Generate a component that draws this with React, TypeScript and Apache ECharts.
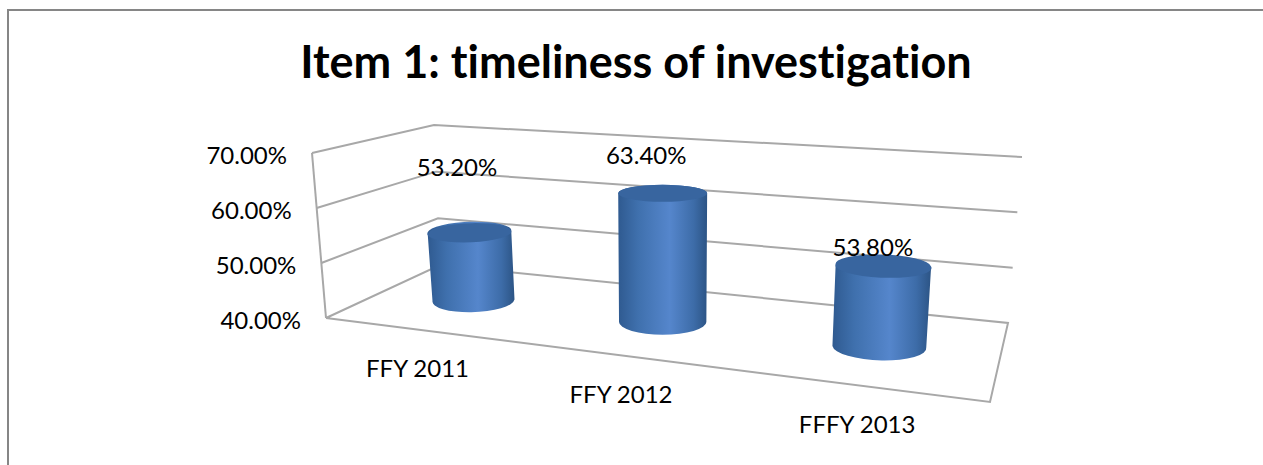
import React, { useEffect, useRef } from "react";
import * as echarts from "echarts";

const titleText = "Item 1: timeliness of investigation";
const categories = ["FFY 2011", "FFY 2012", "FFFY 2013"];
const values = [53.2, 63.4, 53.8];
const valueLabels = ["53.20%", "63.40%", "53.80%"];
const yTicks = [40, 50, 60, 70];

const FONT = "Lato, Carlito, 'Open Sans', sans-serif";
const GRID = { left: 300, top: 157, width: 700, height: 161 };
const Y_MIN = 40;
const Y_MAX = 70;
const LINE = "#a8a8a8";

// Corners of the 3D box: floor and 70% plane (front-left, front-right, back-right, back-left)
const FLOOR: number[][] = [[326, 318], [990, 402], [1008, 323], [440, 265]];
const ROOF: number[][] = [[312, 153], [1006, 207], [1022, 157], [434, 125]];

function homography(q: number[][]) {
  const [[x0, y0], [x1, y1], [x2, y2], [x3, y3]] = q;
  const dx1 = x1 - x2, dx2 = x3 - x2, sx = x0 - x1 + x2 - x3;
  const dy1 = y1 - y2, dy2 = y3 - y2, sy = y0 - y1 + y2 - y3;
  const det = dx1 * dy2 - dx2 * dy1;
  const g = (sx * dy2 - dx2 * sy) / det;
  const h = (dx1 * sy - sx * dy1) / det;
  const a = x1 - x0 + g * x1, b = x3 - x0 + h * x3, c = x0;
  const d = y1 - y0 + g * y1, e = y3 - y0 + h * y3, f = y0;
  return (u: number, v: number) => {
    const w = g * u + h * v + 1;
    return [(a * u + b * v + c) / w, (d * u + e * v + f) / w];
  };
}
const floorH = homography(FLOOR);
const roofH = homography(ROOF);
// u: along categories, v: depth (0 front), t: height fraction
function project(u: number, v: number, t: number) {
  const p = floorH(u, v), q = roofH(u, v);
  return [p[0] + (q[0] - p[0]) * t, p[1] + (q[1] - p[1]) * t];
}
function toNorm(pt: number[]) {
  return [(pt[0] - GRID.left) / GRID.width, (GRID.top + GRID.height - pt[1]) / GRID.height];
}

const HALF_W = 0.0715;
const BASE_RX = 44;
const LEAN = 12;
const CAP_DROP = 2;
const BASE_DROP = 3;
const LABEL_OFFSETS = [[-12.5, -66], [-16.5, -38.5], [-10.5, -20]];
const CATEGORY_OFFSET = [0, 38];
const TICK_OFFSET = [-25, 1.5];
const LABEL_SIZE = 24;

function renderBox(_p: any, api: any) {
  const line = (pts: number[][]) => ({
    type: "polyline",
    shape: { points: pts },
    style: { fill: "none", stroke: LINE, lineWidth: 2 },
  });
  const children: any[] = yTicks.slice(1).map((tick) => {
    const t = toNorm(api.coord([0, tick]))[1];
    return line([project(0, 0, t), project(0, 1, t), project(1, 1, t)]);
  });
  children.push(line([project(0, 0, 0), project(1, 0, 0), project(1, 1, 0), project(0, 1, 0), project(0, 0, 0)]));
  children.push(line([project(0, 0, 0), project(0, 0, 1)]));
  yTicks.forEach((tick) => {
    const t = toNorm(api.coord([0, tick]))[1];
    const p = project(0, 0, t);
    children.push({
      type: "text",
      style: {
        x: p[0] + TICK_OFFSET[0], y: p[1] + TICK_OFFSET[1], text: tick.toFixed(2) + "%",
        font: `${LABEL_SIZE}px ${FONT}`, fill: "#000", textAlign: "right", textVerticalAlign: "middle",
      },
    });
  });
  return { type: "group", children };
}

function renderCylinder(_p: any, api: any) {
  const idx = api.value(0);
  const c = toNorm(api.coord([idx, api.value(1)]));
  const u = c[0], t = c[1];
  const tilt = (u - 0.5) * 0.1;
  const disc = (cx: number, cy: number, rx: number, ratio: number) => ({
    cx, cy, rx, ry: rx * ratio,
    lx: cx - rx * Math.cos(tilt), ly: cy - rx * Math.sin(tilt),
    rx2: cx + rx * Math.cos(tilt), ry2: cy + rx * Math.sin(tilt),
  });
  const l0 = project(u - HALF_W, 0.5, 0), r0 = project(u + HALF_W, 0.5, 0), m0 = project(u, 0.5, 0);
  const mt = project(u, 0.5, t);
  const rx = ((r0[0] - l0[0]) / 2 + BASE_RX) / 2;
  const b = disc(m0[0], m0[1] + u * BASE_DROP, rx, 0.29);
  const a = disc(m0[0] + (u - 0.5) * LEAN, mt[1] + CAP_DROP, rx + 0.8, 0.29 - 0.125 * t);
  const deg = (tilt * 180) / Math.PI;
  const body = `M${a.lx} ${a.ly}L${b.lx} ${b.ly}A${b.rx} ${b.ry} ${deg} 0 0 ${b.rx2} ${b.ry2}L${a.rx2} ${a.ry2}A${a.rx} ${a.ry} ${deg} 0 0 ${a.lx} ${a.ly}Z`;
  const top = `M${a.lx} ${a.ly}A${a.rx} ${a.ry} ${deg} 0 1 ${a.rx2} ${a.ry2}A${a.rx} ${a.ry} ${deg} 0 1 ${a.lx} ${a.ly}Z`;
  const gradient = new echarts.graphic.LinearGradient(0, 0, 1, 0, [
    { offset: 0, color: "#2f5a90" },
    { offset: 0.22, color: "#3f70ad" },
    { offset: 0.58, color: "#5586cc" },
    { offset: 0.85, color: "#3d6ca8" },
    { offset: 1, color: "#2c5485" },
  ]);
  const front = project(u, 0, 0);
  const off = LABEL_OFFSETS[idx];
  return {
    type: "group",
    children: [
      { type: "path", shape: { pathData: body }, style: { fill: gradient } },
      { type: "path", shape: { pathData: top }, style: { fill: "#38659f" } },
      {
        type: "text",
        style: {
          x: a.cx + off[0], y: a.cy + off[1], text: valueLabels[idx],
          font: `${LABEL_SIZE}px ${FONT}`, fill: "#000", textAlign: "center", textVerticalAlign: "middle",
        },
      },
      {
        type: "text",
        style: {
          x: front[0] + CATEGORY_OFFSET[0], y: front[1] + CATEGORY_OFFSET[1], text: categories[idx],
          font: `${LABEL_SIZE}px ${FONT}`, fill: "#000", textAlign: "center", textVerticalAlign: "middle",
        },
      },
    ],
  };
}

export default function App() {
  const ref = useRef<HTMLDivElement>(null);
  useEffect(() => {
    document.body.style.margin = "0";
    const chart = echarts.init(ref.current!, null, { renderer: "svg" });
    chart.setOption({
      animation: false,
      backgroundColor: "#fff",
      title: {
        text: titleText,
        left: 631,
        top: 33,
        textAlign: "center",
        textStyle: { fontFamily: FONT, fontWeight: "bold", fontSize: 45, color: "#000" },
      },
      graphic: [
        {
          type: "polyline",
          shape: { points: [[8, 465], [8, 10], [1263, 10]] },
          style: { fill: "none", stroke: "#868686", lineWidth: 2 },
          silent: true,
        },
      ],
      grid: { ...GRID },
      xAxis: {
        type: "category",
        data: categories,
        axisLabel: { show: false },
        axisLine: { show: false },
        axisTick: { show: false },
      },
      yAxis: {
        type: "value",
        min: Y_MIN,
        max: Y_MAX,
        interval: 10,
        axisLabel: { show: false },
        axisLine: { show: false },
        axisTick: { show: false },
        splitLine: { show: false },
      },
      series: [
        { type: "custom", data: [[0]], renderItem: renderBox, silent: true, z: 1 },
        {
          type: "custom",
          data: values.map((v, i) => [i, v]),
          encode: { x: 0, y: 1 },
          renderItem: renderCylinder,
          z: 2,
        },
      ],
    });
    return () => chart.dispose();
  }, []);
  return (
    <>
      <style>{"text { font-variant-ligatures: none; font-feature-settings: 'liga' 0; }"}</style>
      <div ref={ref} style={{ position: "absolute", left: 0, top: 0, width: 1263, height: 465 }} />
    </>
  );
}
